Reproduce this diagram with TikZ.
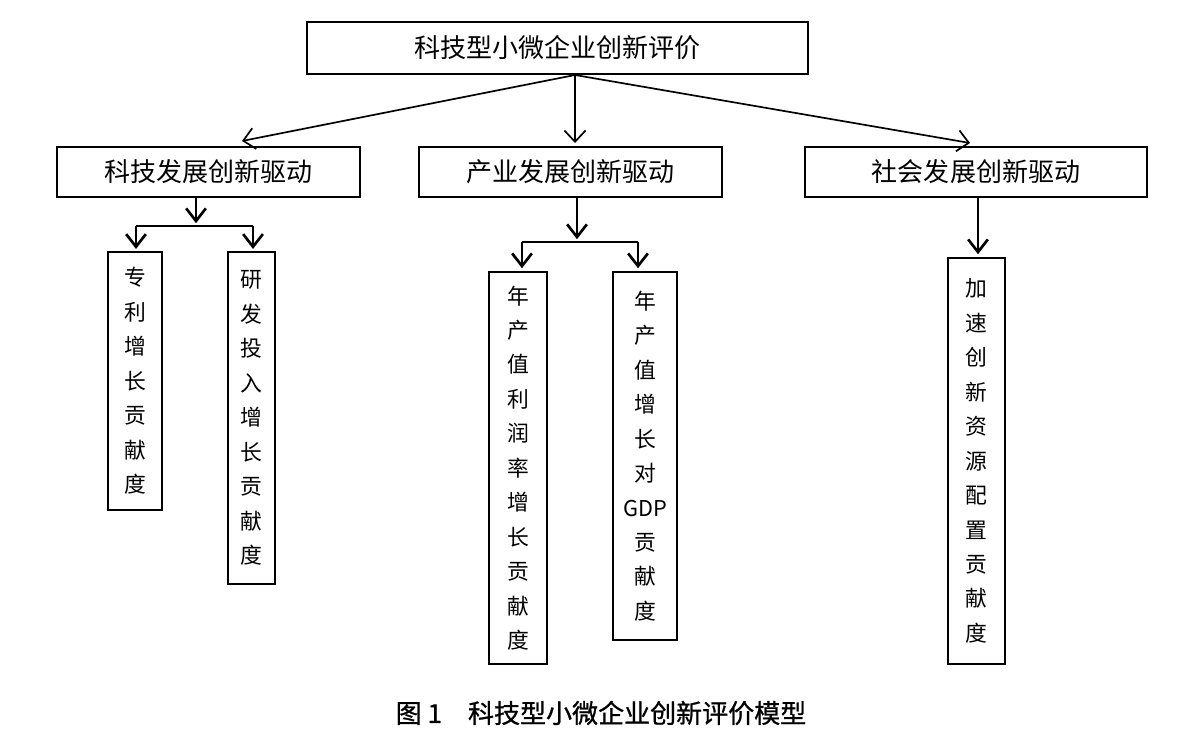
\documentclass[tikz,border=0pt]{standalone}
\usepackage{fontspec}
\setmainfont{Noto Sans CJK SC}
\newfontfamily\capfont[FakeBold=0.9]{Noto Sans CJK SC}
\usetikzlibrary{arrows.meta}
\tikzset{
  box/.style={draw, line width=1.3pt, inner sep=0pt, font=\fontsize{18.5}{22}\selectfont},
  tallbox/.style={draw, line width=1.3pt, inner sep=0pt, align=center, font=\fontsize{15.5}{24.5}\selectfont},
  toparrow/.style={line width=1.2pt, -{Straight Barb[length=8pt,width=15pt,line width=1.2pt]}},
  subarrow/.style={line width=1.5pt, -{Straight Barb[length=9pt,width=14pt,line width=1.9pt]}}
}
\begin{document}
\begin{tikzpicture}[x=0.025cm,y=-0.025cm]
\useasboundingbox (0,0) rectangle (1200,744);
\node[box, minimum width=12.525cm, minimum height=1.3cm] (eval) at (557.5,48) {科技型小微企业创新评价};

\node[box, minimum width=7.575cm, minimum height=1.25cm] (tech) at (208.5,172) {科技发展创新驱动};
\node[box, minimum width=7.575cm, minimum height=1.25cm] (indu) at (570.5,172) {产业发展创新驱动};
\node[box, minimum width=8.55cm, minimum height=1.25cm] (soci) at (976,172) {社会发展创新驱动};

\node[tallbox, minimum width=1.35cm, minimum height=6.45cm] (patent) at (135,381) {专\\利\\增\\长\\贡\\献\\度};
\node[tallbox, minimum width=1.175cm, minimum height=8.3cm] (rd) at (251.5,418) {研\\发\\投\\入\\增\\长\\贡\\献\\度};
\node[tallbox, minimum width=1.45cm, minimum height=9.8cm] (profit) at (518,468) {年\\产\\值\\利\\润\\率\\增\\长\\贡\\献\\度};
\node[tallbox, minimum width=1.6cm, minimum height=9.2cm] (gdp) at (645,456) {年\\产\\值\\增\\长\\对\\GDP\\贡\\献\\度};
\node[tallbox, minimum width=1.425cm, minimum height=10.15cm] (alloc) at (976.5,461) {加\\速\\创\\新\\资\\源\\配\\置\\贡\\献\\度};

\coordinate (fork) at (575,75);
\coordinate (techtip) at (242,141);
\coordinate (socitip) at (970,143);
\draw[toparrow] (fork) -- (techtip);
\draw[toparrow] (fork) -- (575,143);
\draw[toparrow] (fork) -- (socitip);

\coordinate (techbar) at (196,226);
\draw[subarrow] (tech.south -| techbar) -- ([yshift=2pt]techbar);
\draw[line width=1.5pt] (136,226) -- (253,226);
\draw[subarrow] (136,226) -- ([yshift=1.5pt]patent.north -| 136,0);
\draw[subarrow] (253,226) -- ([yshift=1.5pt]rd.north -| 253,0);

\coordinate (indubar) at (577,242);
\draw[subarrow] (indu.south -| indubar) -- ([yshift=2pt]indubar);
\draw[line width=1.5pt] (522,242) -- (638,242);
\draw[subarrow] (522,242) -- ([yshift=2pt]profit.north -| 522,0);
\draw[subarrow] (638,242) -- ([yshift=2pt]gdp.north -| 638,0);

\draw[subarrow] (soci.south -| 978,0) -- ([yshift=2pt]alloc.north -| 978,0);

\node[font=\fontsize{18.5}{22}\selectfont\capfont] (cap) at (601,713) {图 1\quad 科技型小微企业创新评价模型};
\end{tikzpicture}
\end{document}
